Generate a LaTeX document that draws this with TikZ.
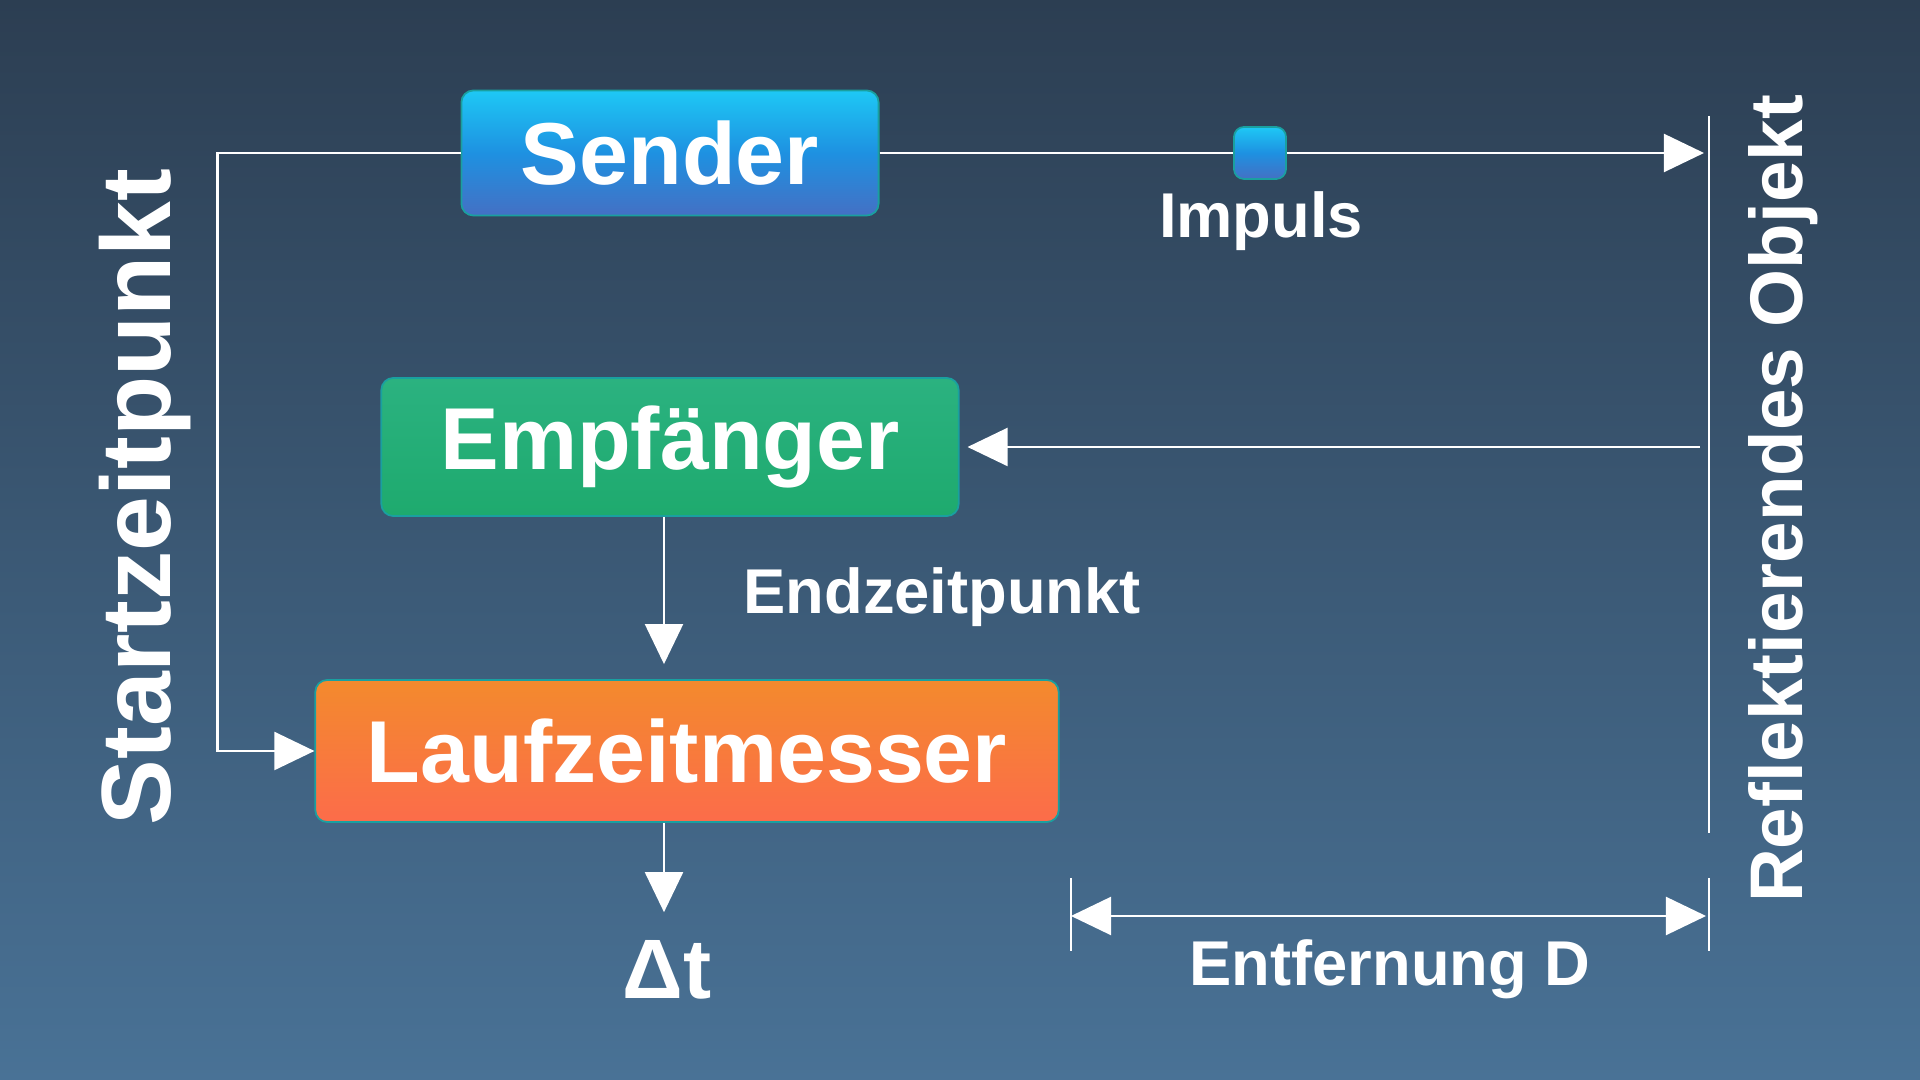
\documentclass[tikz,border=0pt]{standalone}
\usepackage{fontspec}
\setmainfont{Liberation Sans}
\usepackage{tikz}
\usetikzlibrary{arrows.meta, positioning}
\usepackage{xcolor}

\definecolor{bgtop}{RGB}{44,62,82}
\definecolor{bgbottom}{RGB}{73,114,150}
\definecolor{sendtop}{RGB}{30,200,245}
\definecolor{sendmid}{RGB}{30,145,225}
\definecolor{sendbottom}{RGB}{68,112,196}
\definecolor{empftop}{RGB}{43,178,128}
\definecolor{empfbottom}{RGB}{30,170,110}
\definecolor{lauftop}{RGB}{243,138,45}
\definecolor{laufbottom}{RGB}{252,108,74}
\definecolor{boxedge}{RGB}{26,160,160}

\begin{document}
\begin{tikzpicture}[x=0.01cm, y=-0.01cm,
    box/.style={rounded corners=0.12cm, draw=boxedge, line width=0.5pt,
        inner sep=0pt, text=white, font=\bfseries\fontsize{25}{30}\selectfont},
    sendshade/.style={top color=sendtop, bottom color=sendbottom, middle color=sendmid},
    wire/.style={draw=white, line width=0.6pt},
    headed/.style={-{Triangle[length=0.4cm, width=0.38cm]}},
    note/.style={text=white, font=\bfseries\fontsize{18}{22}\selectfont}]

            % background
            \shade[top color=bgtop, bottom color=bgbottom] (0,0) rectangle (1920,1080);
            \useasboundingbox (0,0) rectangle (1920,1080);

            % blocks
            \node[box, sendshade, minimum width=4.17cm, minimum height=1.25cm] (sender) at (670,153) {Sender};
            \node[box, top color=empftop, bottom color=empfbottom, minimum width=5.77cm, minimum height=1.38cm] (empf) at (670,447) {Empfänger};
            \node[box, top color=lauftop, bottom color=laufbottom, minimum width=7.43cm, minimum height=1.42cm] (lauf) at (687,751) {Laufzeitmesser};
            \coordinate (stem) at ([xshift=-0.06cm]empf.south);

            % reflecting object
            \coordinate (objtop) at (1709,116);
            \coordinate (objbot) at (1709,833);
            \draw[wire] (objtop) -- (objbot);

            % outgoing pulse
            \draw[wire, headed, shorten >=0.05cm] (sender.east) -- (sender.east -| objtop);
            \node[sendshade, draw=boxedge, line width=0.5pt, rounded corners=0.1cm, minimum size=0.52cm, inner sep=0pt] (impuls) at (1260,153) {};
            \node[note] (impulstext) at (1261,221) {Impuls};

            % echo
            \draw[wire, headed, shorten <=0.09cm, shorten >=0.08cm] (objtop |- empf.east) -- (empf.east);

            % stop signal
            \draw[wire, headed, shorten >=0.15cm] (stem) -- (stem |- lauf.north);
            \node[note, anchor=west] (endtext) at (731,597) {Endzeitpunkt};

            % start signal
            \draw[wire, headed] (sender.west) -- ++(-243,0) |- (lauf.west);
            \node[text=white, font=\bfseries\fontsize{28}{32}\selectfont, rotate=90] (starttext) at (145,497) {Startzeitpunkt};

            % result
            \node[text=white, font=\bfseries\fontsize{24}{28}\selectfont] (dt) at (667,970) {Δt};
            \draw[wire, headed, shorten >=0.16cm] (stem |- lauf.south) -- (stem |- dt.north);

            % distance
            \coordinate (dleft) at (1071,916);
            \coordinate (dright) at (1706,916);
            \draw[wire] (1071,878) -- (1071,951);
            \draw[wire] (1709,878) -- (1709,951);
            \draw[wire, {Triangle[length=0.4cm, width=0.38cm]}-{Triangle[length=0.4cm, width=0.38cm]}] (dleft) -- (dright);
            \node[note] (disttext) at (1390,969) {Entfernung D};

            \node[text=white, font=\bfseries\fontsize{21.2}{24}\selectfont, rotate=90] (objtext) at (1783,499) {Reflektierendes Objekt};
        \end{tikzpicture}
\end{document}
